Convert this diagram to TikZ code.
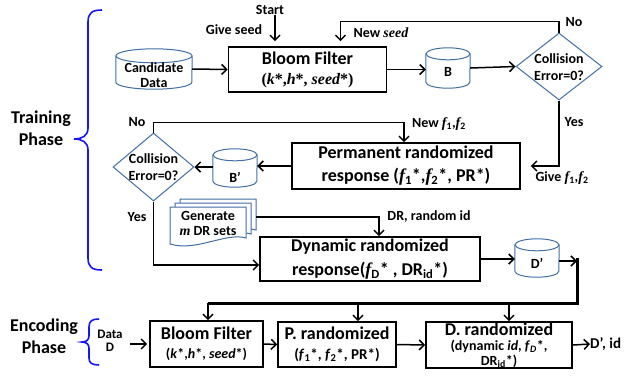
\documentclass[tikz,border=0pt]{standalone}
\usepackage{fontspec}
\setmainfont{Carlito}
\newfontfamily\srf{Liberation Serif}
\usetikzlibrary{shapes.geometric,arrows.meta}
\newcommand{\fsz}[2]{\fontsize{#1}{#2}\selectfont}
\newcommand{\sit}[1]{{\srf\bfseries\itshape #1}}
\definecolor{cylblue}{RGB}{65,110,165}
\definecolor{brblue}{RGB}{20,20,255}
\newcommand{\drawcyl}[3]{%
  \draw[cylpath] ([yshift=-#3]#1.north west) -- ([yshift=#3]#1.south west) arc[start angle=180,end angle=360,x radius=#2,y radius=#3] -- ([yshift=-#3]#1.north east);
  \draw[cylpath] ([yshift=-#3]#1.north) ellipse [x radius=#2, y radius=#3];}
\begin{document}
\begin{tikzpicture}[x=1pt,y=-1pt,
  every node/.style={font=\bfseries},
  box/.style={draw, line width=1.6pt, inner sep=0pt, align=center},
  cyl/.style={rectangle, inner sep=0pt},
  cylpath/.style={draw=cylblue, line width=1pt},
  dia/.style={diamond, draw=cylblue, line width=1pt, inner sep=0pt},
  lbl/.style={font=\fsz{14}{16}\bfseries, inner sep=0pt},
  arr/.style={line width=1.5pt, -{Straight Barb[length=5pt,width=10pt]}},
  brc/.style={draw=brblue, line width=1.6pt}]
\useasboundingbox (0,0) rectangle (628,376);

% braces and phase labels
\draw[brc] (102,10) .. controls (92,10) and (88,13) .. (88,22) -- (88,128) .. controls (88,136) and (82,139) .. (74,139) .. controls (82,139) and (88,142) .. (88,150) -- (88,258) .. controls (88,267) and (92,270) .. (102,270);
\draw[brc] (99,319) .. controls (92,319) and (89,321) .. (89,327) -- (89,336) .. controls (89,340) and (86,342) .. (82,342) .. controls (86,342) and (89,344) .. (89,348) -- (89,358) .. controls (89,363) and (92,365) .. (99,365);
\node[font=\fsz{18}{22}\bfseries, align=center] (tp) at (41,128) {Training\\Phase};
\node[font=\fsz{18}{22}\bfseries, align=center] (ep) at (44,336) {Encoding\\Phase};

% training row 1
\node[cyl, minimum width=76pt, minimum height=40pt] (cand) at (154,69) {};
\drawcyl{cand}{38pt}{7pt}
\node[lbl, align=center, font=\fsz{14}{15}\bfseries] (candt) at (154,75) {Candidate\\Data};
\node[box, minimum width=158pt, minimum height=45pt, font=\fsz{18}{20}\bfseries] (bf) at (307.5,69.5) {Bloom Filter\\\fsz{16}{20}\srf(\sit{k}*,\sit{h}*, \sit{seed}*)};
\node[cyl, minimum width=44pt, minimum height=40pt] (B) at (448,68) {};
\drawcyl{B}{22pt}{6pt}
\node[lbl] (Bt) at (448,72) {B};
\node[dia, minimum width=86pt, minimum height=67pt] (d1) at (559,66.5) {};
\node[lbl, align=center, font=\fsz{14}{17}\bfseries] (d1t) at (559,67) {Collision\\Error=0?};
\node[lbl] (start) at (270,10) {Start};
\node[lbl] (gs) at (234,30) {Give seed};
\node[lbl] (no1) at (574,22) {No};
\node[lbl] (ns) at (381,33) {New \sit{seed}};

\draw[arr, shorten >=5pt] ([xshift=5pt]start.south) -- ([xshift=5pt]start.south |- bf.north);
\draw[arr] (cand.east) -- (bf.west);
\draw[arr] (bf.east) -- (bf.east -| B.west);
\draw[arr] (B.east) -- (d1.west);
\draw[arr, shorten >=5pt] (d1.north) -- ++(0,-11) -| ([xshift=33pt]bf.north);

% training row 2
\node[box, minimum width=228pt, minimum height=46pt, font=\fsz{18}{23}\bfseries] (pr) at (406,166) {Permanent randomized\\response (\sit{f}\textsubscript{1}*,\sit{f}\textsubscript{2}*, PR*)};
\node[cyl, minimum width=44pt, minimum height=38pt] (Bp) at (235,168) {};
\drawcyl{Bp}{22pt}{6pt}
\node[lbl] (Bpt) at (235,177) {B’};
\node[dia, minimum width=81pt, minimum height=68pt] (d2) at (153.5,167) {};
\node[lbl, align=center, font=\fsz{14}{17}\bfseries] (d2t) at (153.5,167) {Collision\\Error=0?};
\node[lbl] (yes1) at (574,122) {Yes};
\node[lbl] (gf) at (562,178) {Give \sit{f}\textsubscript{1},\sit{f}\textsubscript{2}};
\node[lbl] (no2) at (137,122) {No};
\node[lbl] (nf) at (439,124) {New \sit{f}\textsubscript{1},\sit{f}\textsubscript{2}};
\node[lbl] (yes2) at (137,217) {Yes};

\draw[arr, shorten >=10pt] (d1.south) |- (pr.east);
\draw[arr] (pr.west) -- (pr.west -| Bp.east);
\draw[arr] (Bp.west |- d2.east) -- (d2.east);
\draw[arr] (d2.north) -- ++(0,-10) -| ([xshift=-2pt]pr.north);

% training row 3
\foreach \dx/\dy in {10/-8,5/-4,0/0}{
  \draw[draw=cylblue, line width=1pt, fill=white, shift={(\dx,\dy)}] (170,207) -- (246,207) -- (246,238) .. controls (226,232) and (196,252) .. (170,244) -- cycle;
}
\node[lbl, align=center, font=\fsz{14}{15}\bfseries] (gen) at (208,223) {Generate\\\sit{m} DR sets};
\coordinate (genR) at (256,217);
\node[box, minimum width=220pt, minimum height=44pt, font=\fsz{18}{24}\bfseries] (dr) at (370,259) {Dynamic randomized\\response(\sit{f}\textsubscript{D}* , DR\textsubscript{id}*)};
\node[cyl, minimum width=44pt, minimum height=38pt] (Dp) at (537,258) {};
\drawcyl{Dp}{22pt}{6pt}
\node[lbl] (Dpt) at (537,263) {D’};
\node[lbl] (drl) at (429,217) {DR, random id};
\coordinate (cR) at (577,261);
\coordinate (bus) at (208,303);

\draw[arr] (d2.south) |- ([yshift=-6pt]dr.west);
\draw[arr] (genR) -| ([xshift=9pt]dr.north);
\draw[arr] (dr.east) -- (dr.east -| Dp.west);
\draw[arr] (Dp.east |- cR) -- (cR);

% encoding row
\node[font=\fsz{13}{13}\bfseries, align=center] (data) at (110,341) {Data\\D};
\node[box, minimum width=113pt, minimum height=46pt, font=\fsz{18}{19}\bfseries] (bf2) at (206.5,344) {Bloom Filter\\\fsz{14}{19}(\textit{k}*,\textit{h}*, \textit{seed}*)};
\node[box, minimum width=118pt, minimum height=45pt, font=\fsz{18}{20}\bfseries] (pr2) at (337,344.5) {P. randomized\\\fsz{15}{20}(\textit{f}\textsubscript{1}*, \textit{f}\textsubscript{2}*, PR*)};
\node[box, minimum width=146pt, minimum height=46pt, font=\fsz{18}{15}\bfseries] (dr2) at (499,345) {D. randomized\\\fsz{14}{15}(dynamic \textit{id}, \textit{f}\textsubscript{\textit{D}}*,\\\fsz{14}{15}DR\textsubscript{id}*)};
\node[font=\fsz{15}{16}\bfseries, anchor=west, inner sep=0pt] (out) at (590,344) {D’, id};

\draw[line width=3pt] ([yshift=3pt]cR) |- (bus);
\draw[arr] (bus) -- (bus |- bf2.north);
\draw[arr] ([xshift=21pt]pr2.north |- bus) -- ([xshift=21pt]pr2.north);
\draw[arr] ([xshift=10pt]dr2.north |- bus) -- ([xshift=10pt]dr2.north);
\draw[arr, shorten <=4pt, shorten >=2pt] (data.east |- bf2.west) -- (bf2.west);
\draw[arr] (bf2.east) -- (pr2.west);
\draw[arr] (pr2.east) -- (dr2.west);
\draw[arr] (dr2.east) -- (out.west);
\end{tikzpicture}
\end{document}
